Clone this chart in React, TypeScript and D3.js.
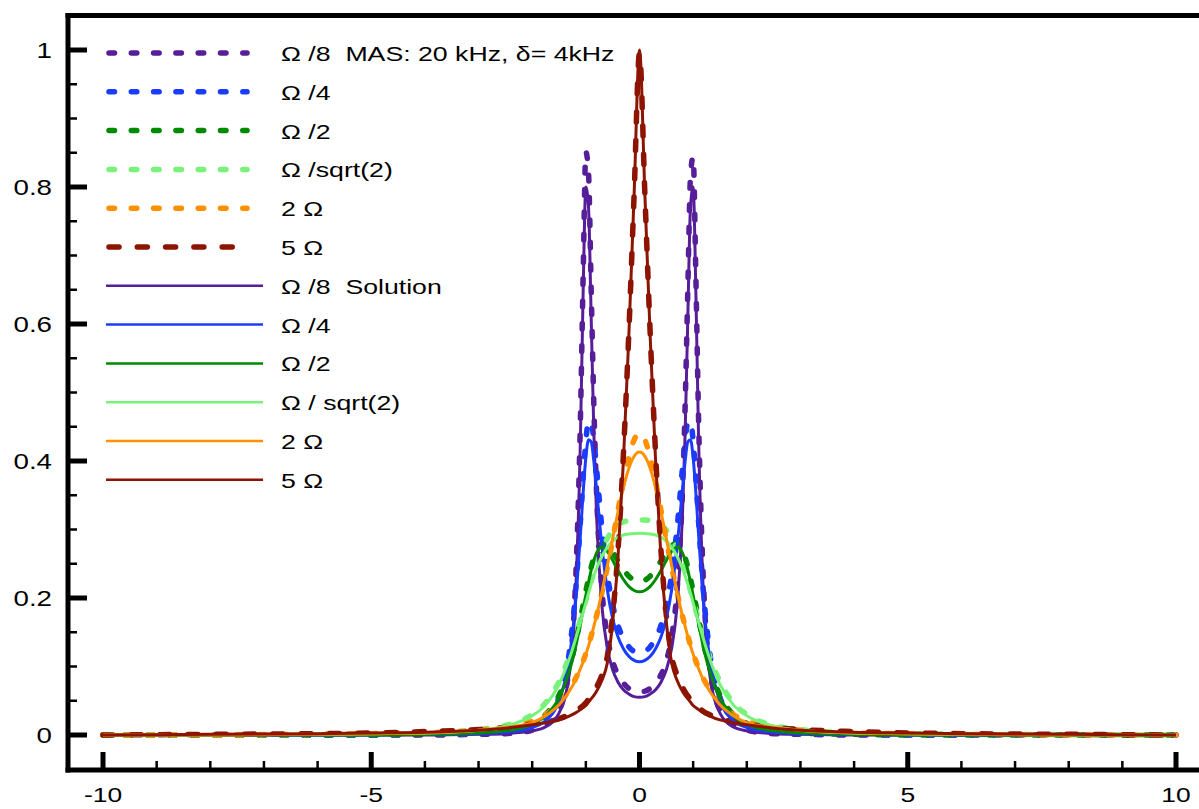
import React from 'react';
import * as d3 from 'd3';

// shared frequency grid (units of the shift)
const xGrid = [-10, -8, -6, -5, -4, -3, -2.5, -2, -1.75, -1.5, -1.3, -1.2, -1.1, -1.05, -1, -0.95, -0.9, -0.85, -0.8, -0.7, -0.6, -0.5, -0.4, -0.3, -0.2, -0.1,
  0, 0.1, 0.2, 0.3, 0.4, 0.5, 0.6, 0.7, 0.8, 0.85, 0.9, 0.95, 1, 1.05, 1.1, 1.2, 1.3, 1.5, 1.75, 2, 2.5, 3, 4, 5, 6, 8, 10];

// MAS simulations (dashed)
const masOm8 = [0, 0, 0, 0, 0, 0.001, 0.002, 0.007, 0.014, 0.036, 0.104, 0.208, 0.465, 0.672, 0.851, 0.820, 0.648, 0.479, 0.354, 0.212, 0.144, 0.108, 0.088, 0.076, 0.068, 0.064,
  0.063, 0.064, 0.068, 0.076, 0.088, 0.108, 0.144, 0.212, 0.354, 0.479, 0.648, 0.815, 0.844, 0.672, 0.465, 0.208, 0.104, 0.036, 0.014, 0.007, 0.002, 0.001, 0, 0, 0, 0, 0];
const masOm4 = [0, 0, 0, 0, 0.001, 0.002, 0.004, 0.012, 0.024, 0.055, 0.126, 0.201, 0.313, 0.376, 0.429, 0.458, 0.456, 0.430, 0.389, 0.302, 0.235, 0.190, 0.160, 0.141, 0.129, 0.122,
  0.120, 0.122, 0.129, 0.141, 0.160, 0.190, 0.235, 0.302, 0.389, 0.430, 0.456, 0.458, 0.429, 0.376, 0.313, 0.201, 0.126, 0.055, 0.024, 0.012, 0.004, 0.002, 0.001, 0, 0, 0, 0];
const masOm2 = [0, 0, 0, 0, 0.001, 0.003, 0.007, 0.017, 0.030, 0.058, 0.100, 0.132, 0.170, 0.190, 0.210, 0.228, 0.245, 0.259, 0.270, 0.279, 0.277, 0.267, 0.254, 0.242, 0.232, 0.226,
  0.224, 0.226, 0.232, 0.242, 0.254, 0.267, 0.277, 0.279, 0.270, 0.259, 0.245, 0.228, 0.210, 0.190, 0.170, 0.132, 0.100, 0.058, 0.030, 0.017, 0.007, 0.003, 0.001, 0, 0, 0, 0];
const masOmR2 = [0, 0.0005, 0.001, 0.002, 0.003, 0.008, 0.014, 0.030, 0.047, 0.078, 0.117, 0.142, 0.169, 0.183, 0.197, 0.211, 0.225, 0.238, 0.250, 0.271, 0.287, 0.299, 0.307, 0.311, 0.313, 0.314,
  0.314, 0.314, 0.313, 0.311, 0.307, 0.299, 0.287, 0.271, 0.250, 0.238, 0.225, 0.211, 0.197, 0.183, 0.169, 0.142, 0.117, 0.078, 0.047, 0.030, 0.014, 0.008, 0.003, 0.002, 0.001, 0.0005, 0];
const mas2Om = [0, 0, 0.001, 0.002, 0.003, 0.007, 0.011, 0.020, 0.030, 0.046, 0.067, 0.081, 0.098, 0.108, 0.119, 0.131, 0.145, 0.159, 0.174, 0.208, 0.245, 0.285, 0.328, 0.370, 0.405, 0.431,
  0.440, 0.431, 0.405, 0.370, 0.328, 0.285, 0.245, 0.208, 0.174, 0.159, 0.145, 0.131, 0.119, 0.108, 0.098, 0.081, 0.067, 0.046, 0.030, 0.020, 0.011, 0.007, 0.003, 0.002, 0.001, 0, 0];
const mas5Om = [0, 0.001, 0.002, 0.003, 0.005, 0.008, 0.011, 0.016, 0.019, 0.024, 0.030, 0.034, 0.040, 0.043, 0.047, 0.052, 0.057, 0.063, 0.070, 0.088, 0.115, 0.175, 0.27, 0.41, 0.585, 0.79,
  0.995, 0.79, 0.585, 0.41, 0.27, 0.175, 0.115, 0.088, 0.070, 0.063, 0.057, 0.052, 0.047, 0.043, 0.040, 0.034, 0.030, 0.024, 0.019, 0.016, 0.011, 0.008, 0.005, 0.003, 0.002, 0.001, 0];

// analytical solutions (solid)
const solOm8 = [0, 0, 0, 0, 0, 0.001, 0.002, 0.006, 0.012, 0.032, 0.094, 0.190, 0.438, 0.649, 0.800, 0.770, 0.607, 0.439, 0.319, 0.188, 0.127, 0.095, 0.077, 0.066, 0.060, 0.056,
  0.055, 0.056, 0.060, 0.066, 0.077, 0.095, 0.127, 0.188, 0.319, 0.439, 0.607, 0.770, 0.800, 0.649, 0.438, 0.190, 0.094, 0.032, 0.012, 0.006, 0.002, 0.001, 0, 0, 0, 0, 0];
const solOm4 = [0, 0, 0, 0, 0.001, 0.002, 0.004, 0.011, 0.021, 0.050, 0.116, 0.186, 0.294, 0.354, 0.405, 0.431, 0.428, 0.399, 0.358, 0.275, 0.212, 0.170, 0.143, 0.126, 0.115, 0.109,
  0.107, 0.109, 0.115, 0.126, 0.143, 0.170, 0.212, 0.275, 0.358, 0.399, 0.428, 0.431, 0.405, 0.354, 0.294, 0.186, 0.116, 0.050, 0.021, 0.011, 0.004, 0.002, 0.001, 0, 0, 0, 0];
const solOm2 = [0, 0, 0, 0, 0.001, 0.003, 0.006, 0.016, 0.028, 0.054, 0.095, 0.125, 0.163, 0.183, 0.204, 0.223, 0.241, 0.255, 0.266, 0.274, 0.268, 0.255, 0.240, 0.227, 0.217, 0.211,
  0.209, 0.211, 0.217, 0.227, 0.240, 0.255, 0.268, 0.274, 0.266, 0.255, 0.241, 0.223, 0.204, 0.183, 0.163, 0.125, 0.095, 0.054, 0.028, 0.016, 0.006, 0.003, 0.001, 0, 0, 0, 0];
const solOmR2 = [0, 0.0005, 0.001, 0.002, 0.003, 0.007, 0.013, 0.028, 0.044, 0.074, 0.113, 0.138, 0.165, 0.179, 0.193, 0.207, 0.220, 0.232, 0.243, 0.261, 0.274, 0.283, 0.289, 0.292, 0.2935, 0.2943,
  0.2945, 0.2943, 0.2935, 0.292, 0.289, 0.283, 0.274, 0.261, 0.243, 0.232, 0.220, 0.207, 0.193, 0.179, 0.165, 0.138, 0.113, 0.074, 0.044, 0.028, 0.013, 0.007, 0.003, 0.002, 0.001, 0.0005, 0];
const sol2Om = [0, 0, 0.001, 0.002, 0.003, 0.007, 0.011, 0.018, 0.028, 0.044, 0.065, 0.079, 0.097, 0.107, 0.118, 0.130, 0.144, 0.159, 0.174, 0.209, 0.247, 0.287, 0.326, 0.361, 0.389, 0.407,
  0.413, 0.407, 0.389, 0.361, 0.326, 0.287, 0.247, 0.209, 0.174, 0.159, 0.144, 0.130, 0.118, 0.107, 0.097, 0.079, 0.065, 0.044, 0.028, 0.018, 0.011, 0.007, 0.003, 0.002, 0.001, 0, 0];
const sol5Om = [0, 0.001, 0.002, 0.003, 0.004, 0.007, 0.010, 0.015, 0.018, 0.022, 0.028, 0.032, 0.037, 0.040, 0.043, 0.048, 0.053, 0.058, 0.064, 0.080, 0.105, 0.165, 0.26, 0.40, 0.58, 0.79,
  1.0, 0.79, 0.58, 0.40, 0.26, 0.165, 0.105, 0.080, 0.064, 0.058, 0.053, 0.048, 0.043, 0.040, 0.037, 0.032, 0.028, 0.022, 0.018, 0.015, 0.010, 0.007, 0.004, 0.003, 0.002, 0.001, 0];

const xTickValues = [-10, -5, 0, 5, 10];
const xTickLabels = ['-10', '-5', '0', '5', '10'];
const yTickValues = [0, 0.2, 0.4, 0.6, 0.8, 1];
const yTickLabels = ['0', '0.2', '0.4', '0.6', '0.8', '1'];

const dashedLabels = ['\u03A9 /8  MAS: 20 kHz, \u03B4= 4kHz', '\u03A9 /4', '\u03A9 /2', '\u03A9 /sqrt(2)', '2 \u03A9', '5 \u03A9'];
const solidLabels = ['\u03A9 /8  Solution', '\u03A9 /4', '\u03A9 /2', '\u03A9 / sqrt(2)', '2 \u03A9', '5 \u03A9'];
const colors = ['#561e98', '#1a3cff', '#008a00', '#78f278', '#ff9000', '#8c1400'];
const masSeries = [masOm8, masOm4, masOm2, masOmR2, mas2Om, mas5Om];
const solSeries = [solOm8, solOm4, solOm2, solOmR2, sol2Om, sol5Om];

const FONT = '"Liberation Sans", Arial, Helvetica, sans-serif';

export default function App() {
  const W = 1199, H = 809;
  const x = d3.scaleLinear().domain([-10, 10]).range([103, 1176]);
  const y = d3.scaleLinear().domain([0, 1]).range([735, 50]);
  const line = d3.line<number>()
    .x((_, i) => x(xGrid[i]))
    .y(d => y(d))
    .curve(d3.curveMonotoneX);

  const xMinor = d3.range(-10, 10.5, 1).filter(v => !xTickValues.includes(v));
  const yMinor = d3.range(0, 1.001, 0.05).map(v => +v.toFixed(2)).filter(v => !yTickValues.some(t => Math.abs(t - v) < 1e-6));

  const axisLeft = 68;
  const axisBottom = 770;
  const topY = 15.5;
  const legendRowY = (i: number) => 53 + i * 38.8;
  const dashFor = (i: number) => (i === 5 ? '10 18.3' : '5.5 16.8');

  return (
    <div style={{ position: 'absolute', left: 0, top: 0 }}>
      <svg width={W} height={H} style={{ display: 'block', background: '#fff' }}>
        {/* curves: MAS dashed */}
        {masSeries.map((s, i) => (
          <path key={'m' + i} d={line(s) || ''} fill="none" stroke={colors[i]} strokeWidth={5.5}
            strokeDasharray={dashFor(i)} strokeLinecap="round" strokeLinejoin="round" />
        ))}
        {/* curves: solutions */}
        {solSeries.map((s, i) => (
          <path key={'s' + i} d={line(s) || ''} fill="none" stroke={colors[i]} strokeWidth={3}
            strokeLinejoin="round" />
        ))}

        {/* frame */}
        <line x1={axisLeft} x2={axisLeft} y1={topY - 2.5} y2={axisBottom + 2.5} stroke="#000" strokeWidth={5} />
        <line x1={axisLeft - 2.5} x2={W} y1={axisBottom} y2={axisBottom} stroke="#000" strokeWidth={5} />
        <line x1={axisLeft - 2.5} x2={W} y1={topY} y2={topY} stroke="#000" strokeWidth={5} />

        {/* y ticks */}
        {yTickValues.map((v, i) => (
          <g key={'yt' + i}>
            <line x1={axisLeft} x2={87} y1={y(v)} y2={y(v)} stroke="#000" strokeWidth={5} />
            <text transform={`translate(52,${y(v) + 8}) scale(1.26,1)`} textAnchor="end"
              fontFamily={FONT} fontSize={22} fill="#000">{yTickLabels[i]}</text>
          </g>
        ))}
        {yMinor.map((v, i) => (
          <line key={'ym' + i} x1={axisLeft} x2={77} y1={y(v)} y2={y(v)} stroke="#000" strokeWidth={2.5} />
        ))}

        {/* x ticks */}
        {xTickValues.map((v, i) => (
          <g key={'xt' + i}>
            <line x1={x(v)} x2={x(v)} y1={axisBottom} y2={752} stroke="#000" strokeWidth={5} />
            <text transform={`translate(${x(v)},802) scale(1.26,1)`} textAnchor="middle"
              fontFamily={FONT} fontSize={21} fill="#000">{xTickLabels[i]}</text>
          </g>
        ))}
        {xMinor.map((v, i) => (
          <line key={'xm' + i} x1={x(v)} x2={x(v)} y1={axisBottom} y2={761} stroke="#000" strokeWidth={2.5} />
        ))}

        {/* legend */}
        {dashedLabels.map((lab, i) => (
          <g key={'ld' + i}>
            <line x1={109} x2={247} y1={legendRowY(i)} y2={legendRowY(i)} stroke={colors[i]} strokeWidth={5.5}
              strokeDasharray={dashFor(i)} strokeLinecap="round" />
            <text transform={`translate(281,${legendRowY(i) + 8}) scale(1.27,1)`} fontFamily={FONT} fontSize={21}
              fill="#000" style={{ whiteSpace: 'pre' }}>{lab}</text>
          </g>
        ))}
        {solidLabels.map((lab, i) => (
          <g key={'ls' + i}>
            <line x1={106} x2={263} y1={legendRowY(i + 6)} y2={legendRowY(i + 6)} stroke={colors[i]} strokeWidth={2.5} />
            <text transform={`translate(281,${legendRowY(i + 6) + 8}) scale(1.27,1)`} fontFamily={FONT} fontSize={21}
              fill="#000" style={{ whiteSpace: 'pre' }}>{lab}</text>
          </g>
        ))}
      </svg>
    </div>
  );
}
